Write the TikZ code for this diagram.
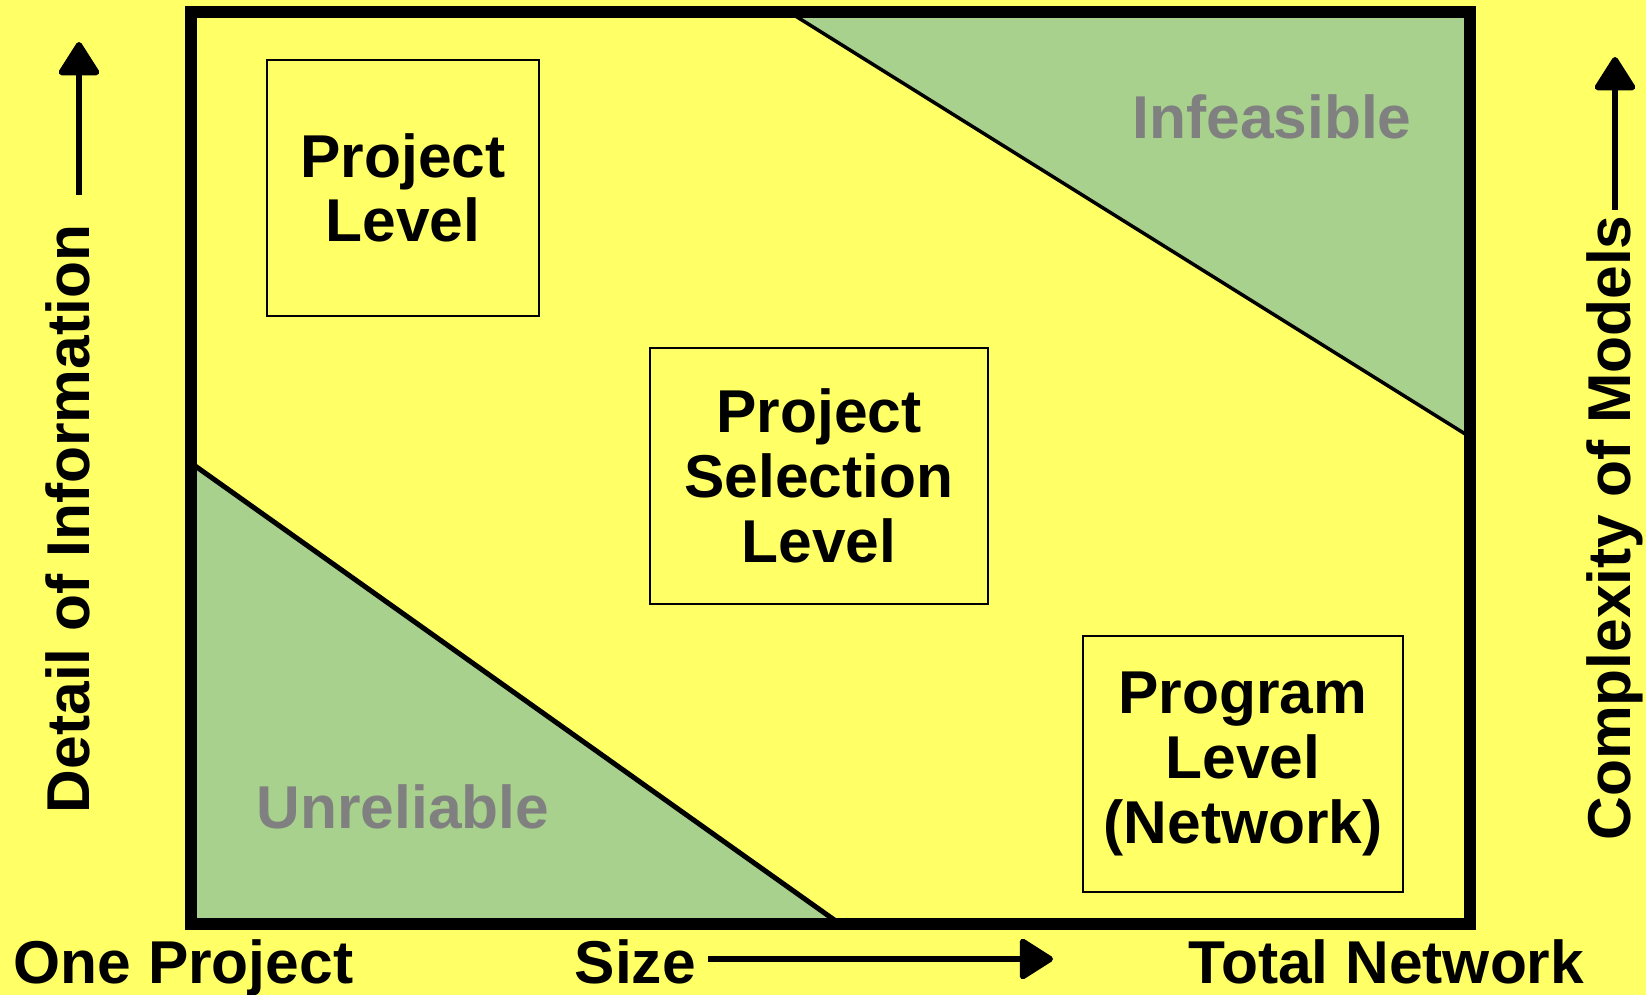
\documentclass[tikz,border=0pt]{standalone}
\usepackage{fontspec}
\setmainfont{Liberation Sans}
\usepackage{tikz}
\usetikzlibrary{%
  arrows.meta
}
\definecolor{bgyellow}{HTML}{FFFF66}
\definecolor{zonegreen}{HTML}{A9D18E}
\definecolor{zonegray}{HTML}{808080}

\begin{document}
\begin{tikzpicture}[
    x=0.01cm, y=-0.01cm,
    every node/.style={font=\bfseries\fontsize{17.2}{18.4}\selectfont, inner sep=0pt},
    levelbox/.style={draw, line width=0.02cm, align=center},
    zonelabel/.style={text=zonegray, anchor=base},
    axisarrow/.style={line width=0.06cm, -{Triangle[round, length=0.36cm, width=0.44cm]}}
  ]

  \fill[bgyellow] (0,0) rectangle (1646,995);
  \useasboundingbox (0,0) rectangle (1646,995);

  \fill[zonegreen] (789,12) -- (1470,12) -- (1470,437) -- cycle;
  \fill[zonegreen] (191,463) -- (191,924) -- (840,924) -- cycle;
  \draw[line width=0.035cm] (789,12) -- (1470,437);
  \draw[line width=0.05cm] (191,463) -- (840,924);
  \draw[line width=0.12cm] (191,12) rectangle (1470,924);

  \node[levelbox, minimum width=2.72cm, minimum height=2.56cm] (project) at (403,188) {Project\\Level};
  \node[levelbox, minimum width=3.37cm, minimum height=2.56cm] (selection) at (819,476) {Project\\Selection\\Level};
  \node[levelbox, minimum width=3.20cm, minimum height=2.56cm] (program) at (1243,764) {Program\\Level\\(Network)};

  \node[zonelabel] (infeasible) at (1272,139) {Infeasible};
  \node[zonelabel] (unreliable) at (403,828) {Unreliable};

  \node[anchor=base west] (oneproject) at (13,983) {One Project};
  \node[anchor=base west] (size) at (574,983) {Size};
  \node[anchor=base west] (total) at (1188,983) {Total Network};
  \node[anchor=base, rotate=90] (detail) at (89,519) {Detail of Information};
  \node[anchor=base, rotate=90] (complexity) at (1630,528) {Complexity of Models};

  \coordinate (sizetail) at (708,959);
  \coordinate (sizetip) at (1053,959);
  \coordinate (detailtail) at (79,195);
  \coordinate (detailtip) at (79,42);
  \coordinate (complextail) at (1615,210);
  \coordinate (complextip) at (1615,57);
  \draw[axisarrow] (sizetail) -- (sizetip);
  \draw[axisarrow] (detailtail) -- (detailtip);
  \draw[axisarrow] (complextail) -- (complextip);
\end{tikzpicture}
\end{document}
